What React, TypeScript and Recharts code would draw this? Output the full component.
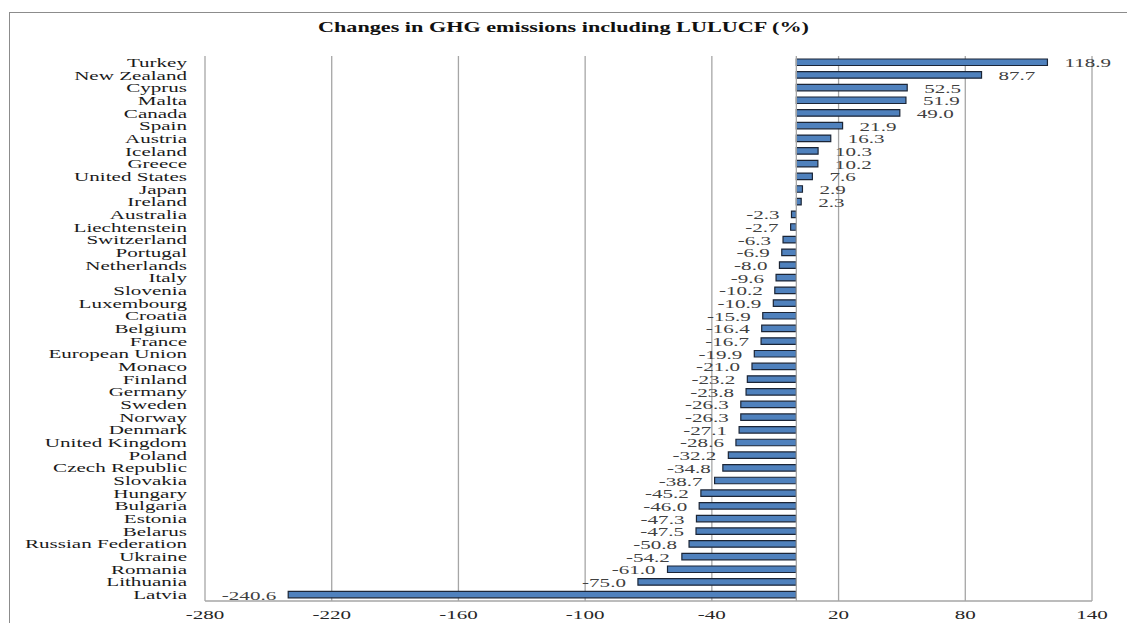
import React from 'react';
import { BarChart, Bar, XAxis, YAxis, CartesianGrid, ReferenceLine, LabelList } from 'recharts';

const countries = [
  'Turkey', 'New Zealand', 'Cyprus', 'Malta', 'Canada', 'Spain', 'Austria', 'Iceland', 'Greece',
  'United States', 'Japan', 'Ireland', 'Australia', 'Liechtenstein', 'Switzerland', 'Portugal',
  'Netherlands', 'Italy', 'Slovenia', 'Luxembourg', 'Croatia', 'Belgium', 'France', 'European Union',
  'Monaco', 'Finland', 'Germany', 'Sweden', 'Norway', 'Denmark', 'United Kingdom', 'Poland',
  'Czech Republic', 'Slovakia', 'Hungary', 'Bulgaria', 'Estonia', 'Belarus', 'Russian Federation',
  'Ukraine', 'Romania', 'Lithuania', 'Latvia',
];

const changes = [
  118.9, 87.7, 52.5, 51.9, 49.0, 21.9, 16.3, 10.3, 10.2,
  7.6, 2.9, 2.3, -2.3, -2.7, -6.3, -6.9,
  -8.0, -9.6, -10.2, -10.9, -15.9, -16.4, -16.7, -19.9,
  -21.0, -23.2, -23.8, -26.3, -26.3, -27.1, -28.6, -32.2,
  -34.8, -38.7, -45.2, -46.0, -47.3, -47.5, -50.8,
  -54.2, -61.0, -75.0, -240.6,
];

const xTicks = [-280, -220, -160, -100, -40, 20, 80, 140];

const data = countries.map((country, i) => ({ country, value: changes[i] }));

const SERIF = "'Liberation Serif', 'Times New Roman', Times, 'DejaVu Serif', serif";
// the source picture is stretched sideways, so every text gets the same squash
const STRETCH = 1.62;
const FONT = 13;

const CountryTick = ({ x, y, payload }: any) => (
  <text
    transform={`translate(${x},${y + 4.5}) scale(${STRETCH},1)`}
    textAnchor="end"
    fontSize={FONT}
    style={{ fontFamily: SERIF }}
    fill="#1a1a1a"
  >
    {payload.value}
  </text>
);

const ValueTick = ({ x, y, payload }: any) => (
  <text
    transform={`translate(${x},${y + 10}) scale(${STRETCH},1)`}
    textAnchor="middle"
    fontSize={FONT}
    style={{ fontFamily: SERIF }}
    fill="#262626"
  >
    {payload.value}
  </text>
);

const ValueLabel = (props: any) => {
  const { x, y, width, height, value } = props;
  const left = Math.min(x, x + width);
  const right = Math.max(x, x + width);
  const pos = value >= 0;
  const tx = pos ? right + 17 : left - 12;
  const ty = y + height / 2 + 5;
  return (
    <text
      transform={`translate(${tx},${ty}) scale(${STRETCH},1)`}
      textAnchor={pos ? 'start' : 'end'}
      fontSize={FONT}
      style={{ fontFamily: SERIF }}
      fill="#404040"
    >
      {Number(value).toFixed(1)}
    </text>
  );
};

export default function App() {
  return (
    <div style={{ position: 'absolute', left: 0, top: 0, width: 1127, height: 623, background: '#fff', overflow: 'hidden', fontFamily: SERIF }}>
      <div
        style={{
          position: 'absolute', left: 9, top: 12, width: 1118, height: 611,
          borderLeft: '1px solid #8c8c8c', borderTop: '1px solid #8c8c8c',
        }}
      />
      <div style={{ position: 'absolute', left: 0, top: 18, width: 1127, textAlign: 'center' }}>
        <span
          style={{
            display: 'inline-block', transform: 'scaleX(1.53)',
            fontFamily: SERIF, fontWeight: 'bold', fontSize: 14.5, color: '#111',
          }}
        >
          Changes in GHG emissions including LULUCF (%)
        </span>
      </div>
      <div style={{ position: 'absolute', left: 0, top: 0 }}>
        <BarChart
          width={1127}
          height={623}
          data={data}
          layout="vertical"
          margin={{ top: 56, right: 35, bottom: 0, left: 10 }}
          barCategoryGap={0}
        >
          <CartesianGrid horizontal={false} stroke="#a6a6a6" strokeWidth={1.3} />
          <XAxis
            type="number"
            domain={[-280, 140]}
            ticks={xTicks}
            tickLine={false}
            axisLine={{ stroke: '#a6a6a6', strokeWidth: 1.3 }}
            tick={<ValueTick />}
            height={22}
            interval={0}
          />
          <YAxis
            type="category"
            dataKey="country"
            width={195}
            tickLine={false}
            axisLine={false}
            tickMargin={12}
            tick={<CountryTick />}
            interval={0}
          />
          <ReferenceLine x={0} stroke="#a6a6a6" strokeWidth={1.3} />
          <Bar
            dataKey="value"
            fill="#4F81BD"
            stroke="#1b2536"
            strokeWidth={1.2}
            barSize={6.5}
            isAnimationActive={false}
          >
            <LabelList dataKey="value" content={<ValueLabel />} />
          </Bar>
        </BarChart>
      </div>
    </div>
  );
}
